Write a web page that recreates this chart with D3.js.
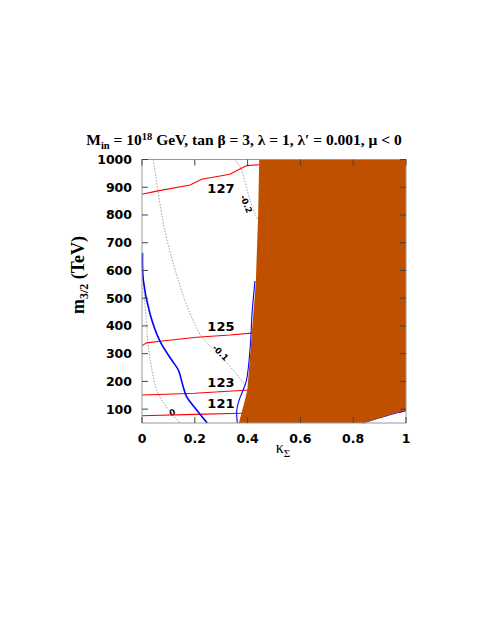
<!DOCTYPE html>
<html>
<head>
<meta charset="utf-8">
<script src="https://cdn.jsdelivr.net/npm/d3@7/dist/d3.min.js"></script>
<style>
body { margin: 0; background: #fff; }
</style>
</head>
<body>
<svg width="482" height="623"></svg>
<script>
// axis ticks
var xTicks = [0, 0.2, 0.4, 0.6, 0.8, 1];
var yTicks = [100, 200, 300, 400, 500, 600, 700, 800, 900, 1000];

// excluded (shaded) region, [kappa, m32]
var excluded = [[0.444, 1000], [1, 1000], [1, 97], [0.838, 50], [0.367, 50],
  [0.39, 133], [0.399, 169], [0.417, 385], [0.431, 555], [0.44, 800], [0.444, 1000]];

// Higgs mass contours (red)
var mh127 = [[0, 875], [0.056, 886], [0.182, 908], [0.226, 929], [0.333, 947], [0.371, 966], [0.397, 978], [0.445, 981]];
var mh125 = [[0, 329], [0.018, 339], [0.068, 345], [0.207, 359], [0.333, 367], [0.425, 375]];
var mh123 = [[0, 151], [0.2, 157], [0.405, 169]];
var mh121 = [[0, 76], [0.2, 81], [0.38, 85]];
var mh121b = [[0.975, 88], [1, 94]];
var mhLabels = [["127", 0.299, 897], ["125", 0.299, 397], ["123", 0.299, 197], ["121", 0.299, 121]];

// blue contours
var blueLeft = [[0.002, 663], [0.005, 565], [0.03, 445], [0.068, 345], [0.1125, 277], [0.1375, 241],
  [0.156, 181], [0.169, 145], [0.207, 97], [0.247, 50]];
var blueRight = [[0.428, 562], [0.417, 446], [0.41, 324], [0.396, 205], [0.383, 169], [0.368, 133],
  [0.359, 97], [0.361, 50]];
var blueBottom = [[0.835, 50], [0.9, 69], [1, 96]];

// gray dotted contours
var g0 = [[0.002, 590], [0.004, 565], [0.016, 421], [0.024, 325], [0.056, 169], [0.087, 115], [0.144, 50]];
var gm1 = [[0.043, 1000], [0.086, 746], [0.1375, 565], [0.172, 469], [0.226, 361], [0.3, 290], [0.397, 181]];
var gm2 = [[0.35, 1000], [0.371, 974], [0.39, 920], [0.409, 854], [0.432, 796], [0.441, 782]];
var grayLabels = [["0", 0.115, 88, -20], ["-0.1", 0.297, 303, 45], ["-0.2", 0.395, 840, 68]];

var svg = d3.select("svg");

var x = d3.scaleLinear().domain([0, 1]).range([142, 406]);
var y = d3.scaleLinear().domain([50, 1000]).range([423, 159.5]);

var line = d3.line()
    .x(function(d) { return x(d[0]); })
    .y(function(d) { return y(d[1]); });
var smooth = d3.line()
    .x(function(d) { return x(d[0]); })
    .y(function(d) { return y(d[1]); })
    .curve(d3.curveCatmullRom);

var plot = svg.append("g");

[g0, gm1, gm2].forEach(function(c) {
  plot.append("path")
    .attr("d", smooth(c))
    .attr("fill", "none")
    .attr("stroke", "#777")
    .attr("stroke-width", 0.7)
    .attr("stroke-dasharray", "1.5,1.5");
});

grayLabels.forEach(function(l) {
  plot.append("text")
    .attr("transform", "translate(" + x(l[1]) + "," + y(l[2]) + ") rotate(" + l[3] + ")")
    .attr("text-anchor", "middle")
    .attr("dy", "0.35em")
    .attr("font-family", "DejaVu Sans")
    .attr("font-weight", "bold")
    .attr("font-size", 8.5)
    .attr("paint-order", "stroke")
    .attr("stroke", "#fff")
    .attr("stroke-width", 2)
    .text(l[0]);
});

[mh127, mh125, mh123, mh121, mh121b].forEach(function(c) {
  plot.append("path")
    .attr("d", line(c))
    .attr("fill", "none")
    .attr("stroke", "#ff0000")
    .attr("stroke-width", 1.1);
});

plot.append("path")
  .attr("d", smooth(blueLeft))
  .attr("fill", "none")
  .attr("stroke", "#0000ff")
  .attr("stroke-width", 1.6);

[blueRight, blueBottom].forEach(function(c) {
  plot.append("path")
    .attr("d", smooth(c))
    .attr("fill", "none")
    .attr("stroke", "#0000ff")
    .attr("stroke-width", 1.1);
});

plot.append("path")
  .attr("d", line(excluded))
  .attr("fill", "#bf5000");

mhLabels.forEach(function(l) {
  plot.append("text")
    .attr("x", x(l[1]))
    .attr("y", y(l[2]))
    .attr("text-anchor", "middle")
    .attr("dy", "0.36em")
    .attr("font-family", "DejaVu Sans")
    .attr("font-weight", "bold")
    .attr("font-size", 13)
    .text(l[0]);
});

// frame and ticks
var axes = svg.append("g");
axes.append("rect")
  .attr("x", x(0)).attr("y", y(1000))
  .attr("width", x(1) - x(0)).attr("height", y(50) - y(1000))
  .attr("fill", "none")
  .attr("stroke", "#999")
  .attr("stroke-width", 1);

xTicks.forEach(function(t) {
  axes.append("line")
    .attr("x1", x(t)).attr("x2", x(t))
    .attr("y1", y(50)).attr("y2", y(50) - 6)
    .attr("stroke", "#444");
  axes.append("line")
    .attr("x1", x(t)).attr("x2", x(t))
    .attr("y1", y(1000)).attr("y2", y(1000) + 6)
    .attr("stroke", "#444");
  axes.append("text")
    .attr("x", x(t))
    .attr("y", 443)
    .attr("text-anchor", "middle")
    .attr("font-family", "DejaVu Sans")
    .attr("font-weight", "bold")
    .attr("font-size", 12.5)
    .text(d3.format("")(t));
});

yTicks.forEach(function(t) {
  axes.append("line")
    .attr("x1", x(0)).attr("x2", x(0) + 6)
    .attr("y1", y(t)).attr("y2", y(t))
    .attr("stroke", "#444");
  axes.append("line")
    .attr("x1", x(1)).attr("x2", x(1) - 6)
    .attr("y1", y(t)).attr("y2", y(t))
    .attr("stroke", "#444");
  axes.append("text")
    .attr("x", 132)
    .attr("y", y(t))
    .attr("dy", "0.36em")
    .attr("text-anchor", "end")
    .attr("font-family", "DejaVu Sans")
    .attr("font-weight", "bold")
    .attr("font-size", 12.5)
    .text(t);
});

// title
var title = svg.append("text")
  .attr("x", 244)
  .attr("y", 145)
  .attr("text-anchor", "middle")
  .attr("font-family", "Liberation Serif")
  .attr("font-weight", "bold")
  .attr("font-size", 15.5);
title.append("tspan").text("M");
title.append("tspan").attr("font-size", 10.5).attr("dy", 4).text("in");
title.append("tspan").attr("dy", -4).text(" = 10");
title.append("tspan").attr("font-size", 10.5).attr("dy", -5).text("18");
title.append("tspan").attr("dy", 5).text(" GeV, tan \u03b2 = 3, \u03bb = 1, \u03bb\u2032 = 0.001, \u03bc < 0");

// y label
var ylab = svg.append("text")
  .attr("transform", "translate(84,275) rotate(-90)")
  .attr("text-anchor", "middle")
  .attr("font-family", "Liberation Serif")
  .attr("font-weight", "bold")
  .attr("font-size", 18);
ylab.append("tspan").text("m");
ylab.append("tspan").attr("font-size", 12).attr("dy", 4).text("3/2");
ylab.append("tspan").attr("dy", -4).text(" (TeV)");

// x label
var xlab = svg.append("text")
  .attr("x", 283)
  .attr("y", 453)
  .attr("text-anchor", "middle")
  .attr("font-family", "Liberation Serif")
  .attr("font-size", 16);
xlab.append("tspan").text("\u03ba");
xlab.append("tspan").attr("font-size", 11).attr("dy", 4).text("\u03a3");
</script>
</body>
</html>
